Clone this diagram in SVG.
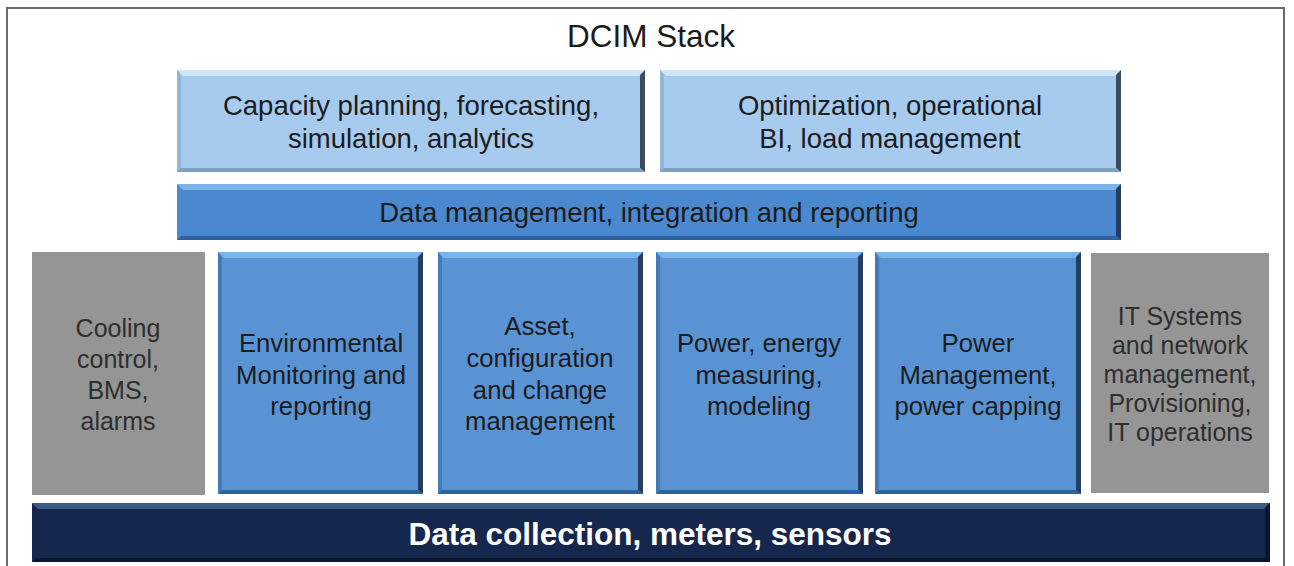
<svg xmlns="http://www.w3.org/2000/svg" width="1294" height="566" viewBox="0 0 1294 566">
  <style>
    text { font-family: "Liberation Sans", Arial, sans-serif; text-anchor: middle; }
    .title { font-size: 31.5px; fill: #1a1a1a; }
    .lbl { font-size: 27.5px; fill: #1c1c1c; }
    .mid { font-size: 25.7px; fill: #1c1c1c; }
    .grey-t { font-size: 25px; fill: #2e2e2e; }
    .base-t { font-size: 31.5px; font-weight: bold; fill: #ffffff; }
    .lt { fill: #a6cbee; }
    .lt-hi { fill: #cfe5f8; }
    .lt-lo { fill: #7f9fc0; }
    .lt-dk { fill: #3c4a5c; }
    .md { fill: #4a88cf; }
    .md-hi { fill: #7ab4ea; }
    .md-lo { fill: #2f62a0; }
    .md-dk { fill: #243e60; }
    .bx { fill: #5a93d3; }
    .gr { fill: #959595; }
    .nv { fill: #15274d; }
    .nv-hi { fill: #3c5a88; }
    .nv-dk { fill: #0b1530; }
  </style>

  <!-- frame -->
  <rect x="7" y="8" width="1277" height="570" fill="#ffffff" stroke="#6a6a6a" stroke-width="2"/>
  <text class="title" x="651" y="47">DCIM Stack</text>

  <!-- upper tier -->
  <g id="capacity-planning">
    <rect class="lt" x="177" y="70" width="468" height="102"/>
    <polygon class="lt-hi" points="177,70 645,70 639,76 183,76"/>
    <polygon class="lt-dk" points="645,70 645,172 640,168 640,75"/>
    <polygon class="lt-lo" points="177,172 645,172 640,168 181,168"/>
    <polygon class="lt-lo" points="177,70 181,75 181,168 177,172" opacity="0.5"/>
    <text class="lbl" x="411" y="115">Capacity planning, forecasting,</text>
    <text class="lbl" x="411" y="148">simulation, analytics</text>
  </g>
  <g id="optimization">
    <rect class="lt" x="660" y="70" width="461" height="102"/>
    <polygon class="lt-hi" points="660,70 1121,70 1115,76 666,76"/>
    <polygon class="lt-dk" points="1121,70 1121,172 1116,168 1116,75"/>
    <polygon class="lt-lo" points="660,172 1121,172 1116,168 664,168"/>
    <polygon class="lt-lo" points="660,70 664,75 664,168 660,172" opacity="0.5"/>
    <text class="lbl" x="890" y="115">Optimization, operational</text>
    <text class="lbl" x="890" y="148">BI, load management</text>
  </g>
  <g id="data-management">
    <rect class="md" x="177" y="184" width="944" height="56"/>
    <polygon class="md-hi" points="177,184 1121,184 1115,190 183,190"/>
    <polygon class="md-dk" points="1121,184 1121,240 1116,236 1116,189"/>
    <polygon class="md-lo" points="177,240 1121,240 1116,236 181,236"/>
    <text class="lbl" x="649" y="222">Data management, integration and reporting</text>
  </g>

  <!-- middle tier -->
  <g id="cooling-control">
    <rect class="gr" x="32" y="252" width="173" height="243"/>
    <text class="grey-t" x="118" y="337">Cooling</text>
    <text class="grey-t" x="118" y="368">control,</text>
    <text class="grey-t" x="118" y="399">BMS,</text>
    <text class="grey-t" x="118" y="430">alarms</text>
  </g>
  <g id="environmental-monitoring">
    <rect class="bx" x="218" y="252" width="205" height="242"/>
    <polygon class="md-hi" points="218,252 423,252 417,258 224,258"/>
    <polygon class="md-dk" points="423,252 423,494 418,490 418,257"/>
    <polygon class="md-lo" points="218,494 423,494 418,490 222,490"/>
    <polygon class="md-lo" points="218,252 222,257 222,490 218,494" opacity="0.5"/>
    <text class="mid" x="321" y="352">Environmental</text>
    <text class="mid" x="321" y="384">Monitoring and</text>
    <text class="mid" x="321" y="415">reporting</text>
  </g>
  <g id="asset-configuration">
    <rect class="bx" x="438" y="252" width="205" height="242"/>
    <polygon class="md-hi" points="438,252 643,252 637,258 444,258"/>
    <polygon class="md-dk" points="643,252 643,494 638,490 638,257"/>
    <polygon class="md-lo" points="438,494 643,494 638,490 442,490"/>
    <polygon class="md-lo" points="438,252 442,257 442,490 438,494" opacity="0.5"/>
    <text class="mid" x="540" y="335">Asset,</text>
    <text class="mid" x="540" y="367">configuration</text>
    <text class="mid" x="540" y="399">and change</text>
    <text class="mid" x="540" y="430">management</text>
  </g>
  <g id="power-energy">
    <rect class="bx" x="656" y="252" width="207" height="242"/>
    <polygon class="md-hi" points="656,252 863,252 857,258 662,258"/>
    <polygon class="md-dk" points="863,252 863,494 858,490 858,257"/>
    <polygon class="md-lo" points="656,494 863,494 858,490 660,490"/>
    <polygon class="md-lo" points="656,252 660,257 660,490 656,494" opacity="0.5"/>
    <text class="mid" x="759" y="352">Power, energy</text>
    <text class="mid" x="759" y="384">measuring,</text>
    <text class="mid" x="759" y="415">modeling</text>
  </g>
  <g id="power-management">
    <rect class="bx" x="875" y="252" width="206" height="242"/>
    <polygon class="md-hi" points="875,252 1081,252 1075,258 881,258"/>
    <polygon class="md-dk" points="1081,252 1081,494 1076,490 1076,257"/>
    <polygon class="md-lo" points="875,494 1081,494 1076,490 879,490"/>
    <polygon class="md-lo" points="875,252 879,257 879,490 875,494" opacity="0.5"/>
    <text class="mid" x="978" y="352">Power</text>
    <text class="mid" x="978" y="384">Management,</text>
    <text class="mid" x="978" y="415">power capping</text>
  </g>
  <g id="it-systems">
    <rect class="gr" x="1091" y="253" width="178" height="240"/>
    <text class="grey-t" x="1180" y="325">IT Systems</text>
    <text class="grey-t" x="1180" y="354">and network</text>
    <text class="grey-t" x="1180" y="383">management,</text>
    <text class="grey-t" x="1180" y="412">Provisioning,</text>
    <text class="grey-t" x="1180" y="441">IT operations</text>
  </g>

  <!-- base tier -->
  <g id="data-collection">
    <rect class="nv" x="32" y="503" width="1238" height="59"/>
    <polygon class="nv-hi" points="32,503 1270,503 1264,509 38,509"/>
    <polygon class="nv-dk" points="1270,503 1270,562 1265,558 1265,508"/>
    <polygon class="nv-dk" points="32,562 1270,562 1265,558 36,558"/>
    <text class="base-t" x="650" y="545">Data collection, meters, sensors</text>
  </g>
</svg>
